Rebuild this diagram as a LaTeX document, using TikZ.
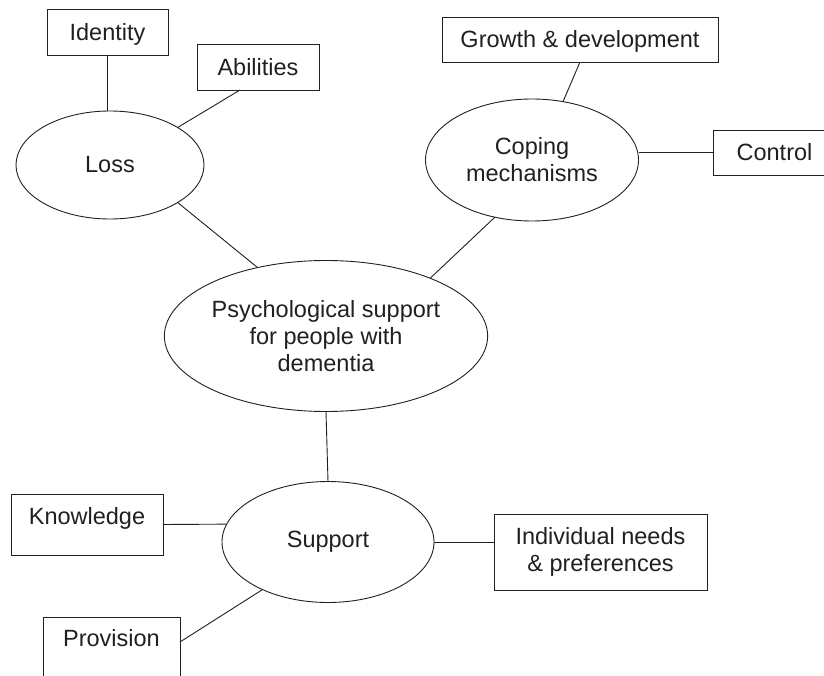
\documentclass[tikz,border=0pt]{standalone}
\usepackage{fontspec}
\setmainfont{Liberation Sans}
\usetikzlibrary{shapes.geometric}
\definecolor{ink}{RGB}{35,31,32}
\tikzset{
  every picture/.style={ink, line width=0.9pt},
  every node/.style={font=\fontsize{23.5}{27}\selectfont, text=ink},
  % Themen (Ellipsen)
  topic/.style={draw, ellipse, inner sep=0pt, outer sep=0pt, align=center},
  % Unterpunkte (Kästen)
  leaf/.style={draw, rectangle, inner sep=0pt, outer sep=0pt, align=center},
  % einzeilig, auf Versalhöhe zentriert
  capline/.style={text height=17pt, text depth=0pt},
}

\begin{document}
\begin{tikzpicture}[x=1pt, y=-1pt]
  \useasboundingbox (0,0) rectangle (824,676);
  \clip (0,0) rectangle (824,676);
  % Mitte und Themen
  \node[topic, minimum width=320pt, minimum height=151pt] (psych) at (326,336)
    {Psychological support\\for people with\\dementia};
  \node[topic, minimum width=188pt, minimum height=108pt] (loss) at (110,165) {Loss};
  \node[topic, minimum width=213pt, minimum height=122pt] (coping) at (532,160) {Coping\\mechanisms};
  \node[topic, minimum width=212pt, minimum height=121pt] (support) at (328,542) {Support};
  % Unterpunkte
  \node[leaf, capline, minimum width=121pt, minimum height=46pt] (identity) at (107.5,32) {Identity};
  \node[leaf, capline, minimum width=122pt, minimum height=46pt] (abilities) at (258,67) {Abilities};
  \node[leaf, capline, minimum width=276pt, minimum height=45pt] (growth) at (580,39.5) {Growth \& development};
  \node[leaf, capline, minimum width=123pt, minimum height=45pt, anchor=west] (control) at (713,152.5) {Control};
  \node[leaf, capline, text depth=18pt, inner ysep=13pt, minimum width=152pt, anchor=north west]
    (knowledge) at (11,494) {Knowledge};
  \node[leaf, capline, text depth=40pt, inner ysep=12pt, minimum width=137pt, anchor=north west]
    (provision) at (43,617) {Provision};
  \node[leaf, minimum width=213pt, minimum height=76pt] (individual) at (600.5,552)
    {Individual needs\\\& preferences};
  % Verbindungen
  \draw (identity.south) -- (identity.south |- loss.north);
  \draw ([xshift=-18pt]abilities.south) -- (loss.29);
  \draw (loss.331) -- (psych.135);
  \draw (growth.south) -- (coping.62);
  \draw (control.west) -- (control.west -| coping.east);
  \draw (coping.237) -- (psych.29);
  \draw (psych.south) -- (support.north);
  \draw (knowledge.east) -- (support.170);
  \draw (support.east) -- (support.east -| individual.west);
  \draw (support.216) -- ([yshift=-25pt]provision.north east);
\end{tikzpicture}
\end{document}
